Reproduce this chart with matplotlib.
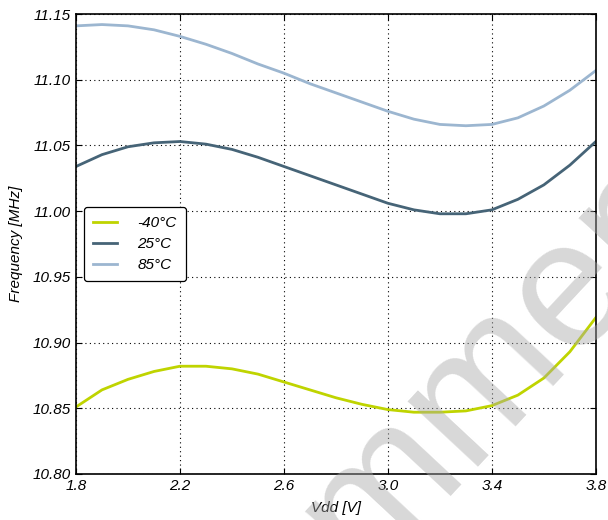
import matplotlib
matplotlib.use("Agg")
import matplotlib.pyplot as plt

plt.rcParams['font.family'] = ['Liberation Sans', 'DejaVu Sans']

# supply voltage [V]
vdd = [1.8, 1.9, 2.0, 2.1, 2.2, 2.3, 2.4, 2.5, 2.6, 2.7, 2.8,
       2.9, 3.0, 3.1, 3.2, 3.3, 3.4, 3.5, 3.6, 3.7, 3.8]

# frequency [MHz] per temperature
f_m40 = [10.851, 10.864, 10.872, 10.878, 10.882, 10.882, 10.880, 10.876, 10.870, 10.864, 10.858,
         10.853, 10.849, 10.847, 10.847, 10.848, 10.852, 10.860, 10.873, 10.893, 10.919]
f_25 = [11.034, 11.043, 11.049, 11.052, 11.053, 11.051, 11.047, 11.041, 11.034, 11.027, 11.020,
        11.013, 11.006, 11.001, 10.998, 10.998, 11.001, 11.009, 11.020, 11.035, 11.053]
f_85 = [11.141, 11.142, 11.141, 11.138, 11.133, 11.127, 11.120, 11.112, 11.105, 11.097, 11.090,
        11.083, 11.076, 11.070, 11.066, 11.065, 11.066, 11.071, 11.080, 11.092, 11.107]

labels = ['-40°C', '25°C', '85°C']
colors = ['#bfd400', '#466477', '#9cb6d0']

xticks = [1.8, 2.2, 2.6, 3.0, 3.4, 3.8]
yticks = [10.80, 10.85, 10.90, 10.95, 11.00, 11.05, 11.10, 11.15]

fig = plt.figure(figsize=(6.08, 5.2), dpi=100)
ax = fig.add_axes([0.125, 0.0885, 0.855, 0.8845])

for y, lab, c in zip([f_m40, f_25, f_85], labels, colors):
    ax.plot(vdd, y, color=c, lw=2.0, label=lab)

ax.set_xlim(1.8, 3.8)
ax.set_ylim(10.80, 11.15)
ax.set_xticks(xticks)
ax.set_yticks(yticks)
ax.set_xticklabels([f'{v:.1f}' for v in xticks], style='italic', fontsize=11)
ax.set_yticklabels([f'{v:.2f}' for v in yticks], style='italic', fontsize=11)
ax.tick_params(direction='in', top=True, right=True, length=4, width=0.8)
ax.grid(True, color='black', linestyle=(0, (1, 3)), linewidth=0.8)
for s in ax.spines.values():
    s.set_linewidth(1.2)

ax.set_xlabel('Vdd [V]', style='italic', fontsize=11, labelpad=6)
ax.set_ylabel('Frequency [MHz]', style='italic', fontsize=11, labelpad=7)

leg = ax.legend(loc='upper left', bbox_to_anchor=(0.015, 0.58), borderaxespad=0,
                prop={'style': 'italic', 'size': 11}, handlelength=1.6,
                handletextpad=1.3, borderpad=0.6, labelspacing=0.45,
                fancybox=True, framealpha=1, edgecolor='black')
leg.get_frame().set_linewidth(0.9)

# watermark
fig.text(0.755, 0.225, 'Recommended', fontsize=130, color='#a8a8a8', alpha=0.45,
         rotation=47, rotation_mode='anchor', ha='center', va='center', zorder=10)

fig.savefig('out.png', dpi=100)
